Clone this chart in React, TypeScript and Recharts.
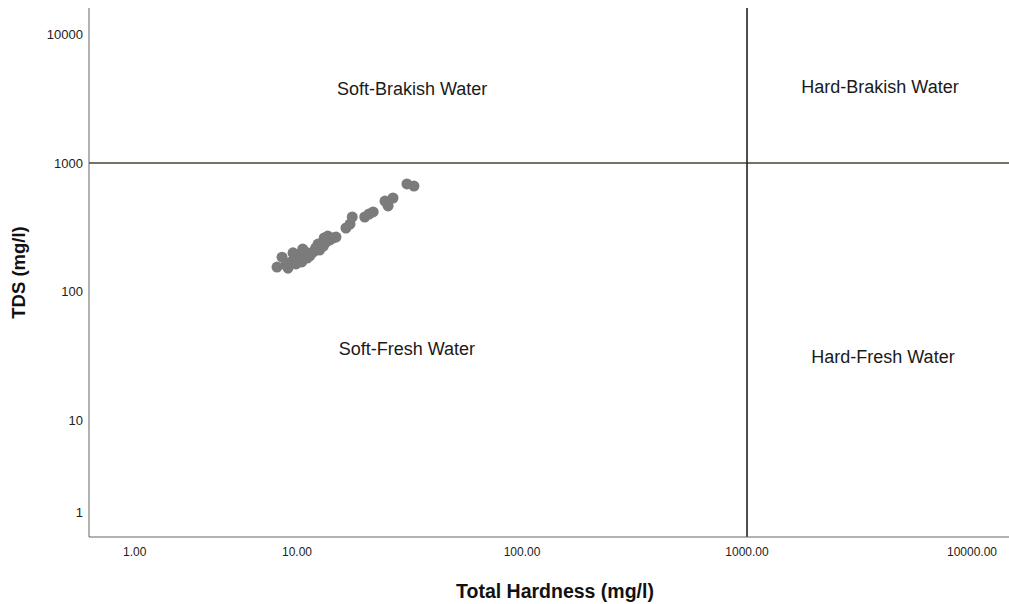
import React from 'react';
import {
  ScatterChart,
  Scatter,
  XAxis,
  YAxis,
  ReferenceLine,
  ReferenceDot,
} from 'recharts';

// Total hardness (mg/l) and TDS (mg/l) per sample
const hardness = [
  8.15, 8.58, 9.12, 9.4, 9.6, 9.9, 10.1, 10.3, 10.5, 10.9, 11.1, 11.4,
  11.8, 12.1, 12.4, 12.6, 13.1, 13.5, 13.7, 14.0, 14.5, 14.9, 16.5, 17.2,
  17.6, 20.0, 20.9, 21.8, 24.6, 25.4, 26.7, 30.8, 33.1, 8.93, 10.6, 13.2,
];
const tds = [
  155, 185, 152, 170, 200, 164, 182, 192, 170, 203, 182, 189,
  203, 218, 234, 210, 226, 243, 270, 252, 261, 265, 312, 335,
  380, 380, 401, 416, 506, 463, 534, 687, 662, 161, 214, 261,
];

// class limits
const hardnessLimit = 1000;
const tdsLimit = 1000;

const zoneNames = ['Soft-Brakish Water', 'Hard-Brakish Water', 'Soft-Fresh Water', 'Hard-Fresh Water'];
const zoneX = [32.5, 3900, 30.8, 4020];
const zoneY = [3770, 3900, 35.7, 30.9];

// the lowest label sits inside the axis in the original, not at 1
const xTicks = [1.9, 10, 100, 1000, 10000];
const xTickLabels = ['1.00', '10.00', '100.00', '1000.00', '10000.00'];
const yTicks = [1.9, 10, 100, 1000, 10000];
const yTickLabels = ['1', '10', '100', '1000', '10000'];

const points = hardness.map((h, i) => ({ hardness: h, tds: tds[i] }));

const Dot = (props: any) => <circle cx={props.cx} cy={props.cy} r={5.5} fill="#7b7b7b" />;

export default function App() {
  return (
    <div style={{ fontFamily: '"Liberation Sans", Arial, sans-serif' }}>
      <style>{'body{margin:0}'}</style>
      <ScatterChart width={1009} height={604} margin={{ top: 8, right: 0, left: 0, bottom: 0 }}>
        <XAxis
          type="number"
          dataKey="hardness"
          scale="log"
          domain={[1.19, 14600]}
          allowDataOverflow
          ticks={xTicks}
          tickFormatter={(v: number) => xTickLabels[xTicks.indexOf(v)]}
          height={67}
          tickLine={false}
          tickSize={0}
          tickMargin={10}
          axisLine={{ stroke: '#666' }}
          tick={{ fill: '#222', fontSize: 12 }}
          label={{
            value: 'Total Hardness (mg/l)',
            position: 'insideBottom',
            offset: 6,
            dx: 6,
            style: { fontSize: 19.5, fontWeight: 'bold', fill: '#111' },
          }}
        />
        <YAxis
          type="number"
          dataKey="tds"
          scale="log"
          domain={[1.23, 16070]}
          allowDataOverflow
          ticks={yTicks}
          tickFormatter={(v: number) => yTickLabels[yTicks.indexOf(v)]}
          width={89}
          tickLine={false}
          tickSize={0}
          tickMargin={6}
          axisLine={{ stroke: '#666' }}
          tick={{ fill: '#222', fontSize: 13 }}
          label={{
            value: 'TDS (mg/l)',
            angle: -90,
            position: 'insideLeft',
            offset: 18,
            style: { fontSize: 18.5, fontWeight: 'bold', fill: '#111', textAnchor: 'middle' },
          }}
        />
        <ReferenceLine y={tdsLimit} stroke="#45452c" strokeWidth={1.6} />
        <ReferenceLine x={hardnessLimit} stroke="#222" strokeWidth={1.6} />
        {zoneNames.map((name, i) => (
          <ReferenceDot
            key={name}
            x={zoneX[i]}
            y={zoneY[i]}
            r={0}
            stroke="none"
            fill="none"
            label={{ value: name, position: 'center', style: { fontSize: 18, fill: '#1a1a1a' } }}
          />
        ))}
        <Scatter data={points} shape={<Dot />} isAnimationActive={false} />
      </ScatterChart>
    </div>
  );
}
